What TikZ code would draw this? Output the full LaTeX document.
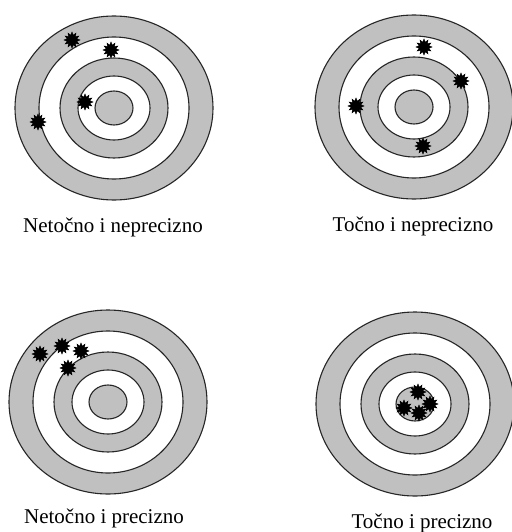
\documentclass[tikz,border=0pt]{standalone}
\usepackage{fontspec}
\setmainfont{Liberation Serif}
\usetikzlibrary{shapes.geometric}
\definecolor{ringgray}{RGB}{192,192,192}

\tikzset{
  ring/.style={draw=black!85, line width=1.1pt},
  hit/.style={star, star points=12, star point ratio=1.6, fill=black,
    draw=black, inner sep=0pt, minimum size=16pt},
  caption/.style={font=\fontsize{21}{24}\selectfont, anchor=base, inner sep=0pt},
  pics/target/.style={code={
    \draw[ring, fill=ringgray] (0,0) ellipse [x radius=99pt, y radius=92pt];
    \draw[ring, fill=white] (0,0) ellipse [x radius=75pt, y radius=71pt];
    \draw[ring, fill=ringgray] (0,0) ellipse [x radius=54pt, y radius=50pt];
    \draw[ring, fill=white] (0,0) ellipse [x radius=36pt, y radius=32pt];
    \draw[ring, fill=ringgray] (0,0) ellipse [x radius=19pt, y radius=17pt];
  }}
}

\begin{document}
\begin{tikzpicture}[x=1pt, y=-1pt]
\useasboundingbox[fill=white] (0,0) rectangle (511,532);

% targets
\pic at (114,108) {target};
\pic at (414,107) {target};
\pic at (108,402) {target};
\pic at (415,404) {target};

% hits, top left
\node[hit] (a1) at (72,40) {};
\node[hit] (a2) at (111,50) {};
\node[hit] (a3) at (85,102) {};
\node[hit] (a4) at (38,122) {};
% hits, top right
\node[hit] (b1) at (424,47) {};
\node[hit] (b2) at (461,81) {};
\node[hit] (b3) at (356,106) {};
\node[hit] (b4) at (423,146) {};
% hits, bottom left
\node[hit] (c1) at (40,354) {};
\node[hit] (c2) at (62,346) {};
\node[hit] (c3) at (81,351) {};
\node[hit] (c4) at (68,368) {};
% hits, bottom right
\node[hit] (d1) at (418,392) {};
\node[hit] (d2) at (430,404) {};
\node[hit] (d3) at (404,408) {};
\node[hit] (d4) at (419,413) {};

% captions
\node[caption] (l1) at (113,232) {Netočno i neprecizno};
\node[caption] (l2) at (413,231) {Točno i neprecizno};
\node[caption] (l3) at (104,523) {Netočno i precizno};
\node[caption] (l4) at (422,528) {Točno i precizno};
\end{tikzpicture}
\end{document}
